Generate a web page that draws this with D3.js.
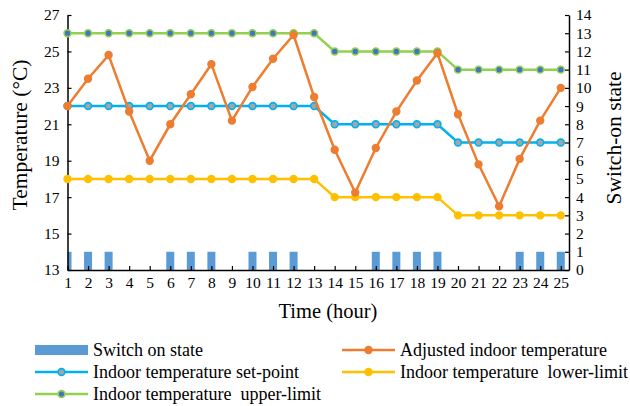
<!DOCTYPE html>
<html>
<head>
    <meta charset="utf-8">
    <style>
        html, body { margin: 0; background: #fff; }
        text { font-family: 'Liberation Serif', 'Times New Roman', serif; fill: #000; }
    </style>
</head>
<body>
    <svg id="chart" width="630" height="406"></svg>

    <script src="https://cdn.jsdelivr.net/npm/d3@7"></script>
    <script>
        var hours = d3.range(1, 26);
        var switchState = [1,1,1,0,0,1,1,1,0,1,1,1,0,0,0,1,1,1,1,0,0,0,1,1,1];
        var adjustedTemp = [22.0,23.5,24.8,21.7,19.0,21.0,22.65,24.3,21.2,23.05,24.6,25.9,22.5,
                            19.6,17.25,19.7,21.7,23.4,24.9,21.55,18.8,16.5,19.1,21.2,23.0];
        var setPoint = [22,22,22,22,22,22,22,22,22,22,22,22,22,21,21,21,21,21,21,20,20,20,20,20,20];
        var lowerLimit = [18,18,18,18,18,18,18,18,18,18,18,18,18,17,17,17,17,17,17,16,16,16,16,16,16];
        var upperLimit = [26,26,26,26,26,26,26,26,26,26,26,26,26,25,25,25,25,25,25,24,24,24,24,24,24];
        var leftTicks = [13, 15, 17, 19, 21, 23, 25, 27];
        var rightTicks = d3.range(0, 15);

        var svg = d3.select("#chart");
        var plotL = 67.5, plotR = 569, plotT = 15, plotB = 270;

        var x = d3.scaleLinear().domain([1, 25.4]).range([plotL, plotR]);
        var yT = d3.scaleLinear().domain([13, 27]).range([plotB, plotT]);
        var yS = d3.scaleLinear().domain([0, 14]).range([plotB, plotT]);

        svg.append("defs").append("clipPath").attr("id", "plotclip")
            .append("rect").attr("x", plotL).attr("y", plotT - 10)
            .attr("width", plotR - plotL).attr("height", plotB - plotT + 10);

        // switch bars
        var barW = 8;
        svg.append("g").attr("clip-path", "url(#plotclip)")
            .selectAll("rect").data(hours.filter(function(h, i) { return switchState[i] > 0; }))
            .enter().append("rect")
            .attr("x", function(h) { return x(h) - barW / 2; })
            .attr("y", function(h) { return yS(switchState[h - 1]); })
            .attr("width", barW)
            .attr("height", function(h) { return yS(0) - yS(switchState[h - 1]); })
            .attr("fill", "#5B9BD5");

        // axes
        var axisStyle = function(g) {
            g.select(".domain").attr("stroke", "#000").attr("stroke-width", 1.5);
            g.selectAll(".tick line").attr("stroke", "#000").attr("stroke-width", 1.2);
            g.selectAll(".tick text").style("font-size", "15.5px")
                .style("font-family", "'Liberation Serif', serif");
        };

        svg.append("g").attr("transform", "translate(0," + plotB + ")")
            .call(d3.axisBottom(x).tickValues(hours).tickSize(-4).tickSizeOuter(0).tickPadding(7))
            .call(axisStyle);
        svg.append("g").attr("transform", "translate(" + plotL + ",0)")
            .call(d3.axisLeft(yT).tickValues(leftTicks).tickSize(-4).tickSizeOuter(0).tickPadding(8))
            .call(axisStyle);
        svg.append("g").attr("transform", "translate(" + plotR + ",0)")
            .call(d3.axisRight(yS).tickValues(rightTicks).tickSize(-4).tickSizeOuter(0).tickPadding(7))
            .call(axisStyle);

        // lines
        var series = [
            { values: upperLimit, color: "#92D050", fill: "#4472C4" },
            { values: setPoint, color: "#00B0F0", fill: "#A5A5A5" },
            { values: lowerLimit, color: "#FFC000", fill: "#FFC000" },
            { values: adjustedTemp, color: "#ED7D31", fill: "#ED7D31" }
        ];
        var line = d3.line().x(function(d, i) { return x(hours[i]); }).y(function(d) { return yT(d); });

        series.forEach(function(s) {
            var g = svg.append("g");
            g.append("path").datum(s.values)
                .attr("d", line).attr("fill", "none")
                .attr("stroke", s.color).attr("stroke-width", 2.5);
            g.selectAll("circle").data(s.values).enter().append("circle")
                .attr("cx", function(d, i) { return x(hours[i]); })
                .attr("cy", function(d) { return yT(d); })
                .attr("r", 3.4)
                .attr("fill", s.fill)
                .attr("stroke", s.color).attr("stroke-width", 1.6);
        });

        // axis titles
        svg.append("text").attr("x", 328).attr("y", 318).attr("text-anchor", "middle")
            .style("font-size", "20.5px").text("Time (hour)");
        svg.append("text").attr("transform", "translate(27,135) rotate(-90)").attr("text-anchor", "middle")
            .style("font-size", "21.5px").text("Temperature (°C)");
        svg.append("text").attr("transform", "translate(621,138) rotate(-90)").attr("text-anchor", "middle")
            .style("font-size", "21.5px").text("Switch-on state");

        // legend
        var legendItems = [
            { label: "Switch on state", type: "bar", color: "#5B9BD5", x: 35, y: 350 },
            { label: "Adjusted indoor temperature", type: "line", color: "#ED7D31", fill: "#ED7D31", x: 342, y: 350 },
            { label: "Indoor temperature set-point", type: "line", color: "#00B0F0", fill: "#A5A5A5", x: 35, y: 372 },
            { label: "Indoor temperature  lower-limit", type: "line", color: "#FFC000", fill: "#FFC000", x: 342, y: 372 },
            { label: "Indoor temperature  upper-limit", type: "line", color: "#92D050", fill: "#4472C4", x: 35, y: 394 }
        ];
        legendItems.forEach(function(d) {
            var g = svg.append("g").attr("transform", "translate(" + d.x + "," + d.y + ")");
            if (d.type === "bar") {
                g.append("rect").attr("x", 0).attr("y", -5).attr("width", 53).attr("height", 10).attr("fill", d.color);
            } else {
                g.append("line").attr("x1", 0).attr("x2", 53).attr("y1", 0).attr("y2", 0)
                    .attr("stroke", d.color).attr("stroke-width", 2.5);
                g.append("circle").attr("cx", 26.5).attr("cy", 0).attr("r", 3.4)
                    .attr("fill", d.fill).attr("stroke", d.color).attr("stroke-width", 1.6);
            }
            g.append("text").attr("x", 58).attr("y", 6).style("font-size", "18px")
                .style("white-space", "pre").attr("xml:space", "preserve").text(d.label);
        });
    </script>
</body>
</html>
